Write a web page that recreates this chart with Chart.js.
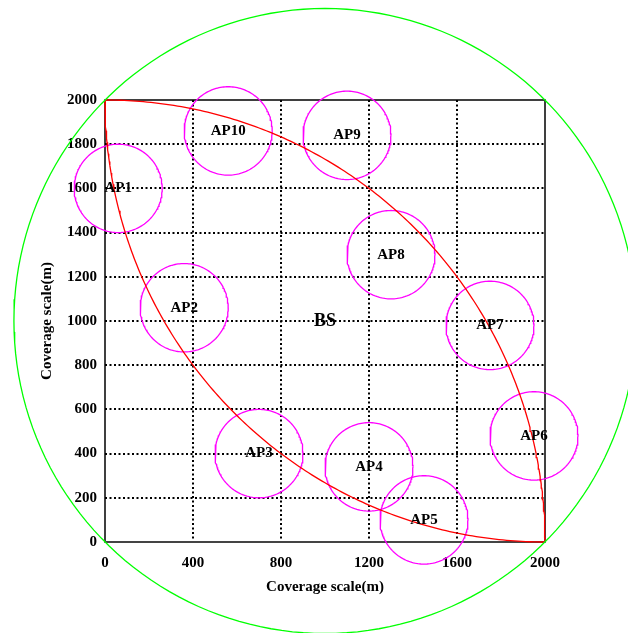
<!DOCTYPE html>
<html>
<head>
<meta charset="utf-8">
<script src="https://cdn.jsdelivr.net/npm/chart.js@4/dist/chart.umd.min.js"></script>
<style>
  html, body { margin: 0; padding: 0; background: #fff; }
  #wrap { width: 628px; height: 633px; }
</style>
</head>
<body>
<div id="wrap"><canvas id="c" width="628" height="633"></canvas></div>
<script>
// Access points: names, centre coordinates (m) and coverage radius (m)
const apNames = ['AP1', 'AP2', 'AP3', 'AP4', 'AP5', 'AP6', 'AP7', 'AP8', 'AP9', 'AP10'];
const apX = [60, 360, 700, 1200, 1450, 1950, 1750, 1300, 1100, 560];
const apY = [1600, 1060, 400, 340, 100, 480, 980, 1300, 1840, 1860];
const apRadius = 200;

// Base station at the middle of the square, covering the whole square
const bsName = 'BS';
const bsX = 1000;
const bsY = 1000;
const bsRadius = 1414;

// Quarter arcs of radius equal to the side, centred on two opposite corners
const arcCentersX = [0, 2000];
const arcCentersY = [0, 2000];
const arcRadius = 2000;

// Axis ticks
const xTicks = [0, 400, 800, 1200, 1600, 2000];
const yTicks = [0, 200, 400, 600, 800, 1000, 1200, 1400, 1600, 1800, 2000];
const axisTitle = 'Coverage scale(m)';

const SERIF = '"Liberation Serif", "Times New Roman", serif';

// Outline of a circle (or part of it) as points for a line dataset
function ring(cx, cy, r, a0 = 0, a1 = 2 * Math.PI, n = 180) {
  const pts = [];
  for (let i = 0; i <= n; i++) {
    const a = a0 + (a1 - a0) * i / n;
    pts.push({ x: cx + r * Math.cos(a), y: cy + r * Math.sin(a) });
  }
  return pts;
}

function lineSet(data, color, width) {
  return {
    data, borderColor: color, borderWidth: width, showLine: true,
    pointRadius: 0, pointHoverRadius: 0, tension: 0, fill: false, clip: false
  };
}

const datasets = [];
// coverage of the base station
datasets.push(lineSet(ring(bsX, bsY, bsRadius), '#00ff00', 1.3));
// corner arcs
datasets.push(lineSet(ring(arcCentersX[0], arcCentersY[0], arcRadius, 0, Math.PI / 2), '#ff0000', 1.3));
datasets.push(lineSet(ring(arcCentersX[1], arcCentersY[1], arcRadius, Math.PI, 1.5 * Math.PI), '#ff0000', 1.3));
// access point coverage
apNames.forEach((n, i) => datasets.push(lineSet(ring(apX[i], apY[i], apRadius), '#ff00ff', 1.3)));

// Plot frame drawn as a solid box around the area
const framePlugin = {
  id: 'frame',
  beforeDatasetsDraw(chart) {
    const { ctx, chartArea: a } = chart;
    ctx.save();
    ctx.strokeStyle = '#000';
    ctx.lineWidth = 1.5;
    ctx.strokeRect(a.left, a.top, a.right - a.left, a.bottom - a.top);
    ctx.strokeStyle = '#444';
    ctx.lineWidth = 2;
    ctx.beginPath();
    ctx.moveTo(a.left, a.bottom);
    ctx.lineTo(a.right, a.bottom);
    ctx.stroke();
    ctx.restore();
  }
};

// Names of the stations written at their centres
const namePlugin = {
  id: 'names',
  afterDatasetsDraw(chart) {
    const { ctx, scales: { x, y } } = chart;
    ctx.save();
    ctx.fillStyle = '#000';
    ctx.textAlign = 'center';
    ctx.textBaseline = 'middle';
    ctx.font = 'bold 15px ' + SERIF;
    apNames.forEach((n, i) => {
      ctx.fillText(n, x.getPixelForValue(apX[i]), y.getPixelForValue(apY[i]));
    });
    ctx.font = 'bold 18px ' + SERIF;
    ctx.fillText(bsName, x.getPixelForValue(bsX), y.getPixelForValue(bsY));
    ctx.restore();
  }
};

const gridColor = (ctx) => {
  const v = ctx.tick && ctx.tick.value;
  return (v === 0 || v === 2000) ? 'rgba(0,0,0,0)' : '#000';
};
const plain = (v) => String(v);

new Chart(document.getElementById('c'), {
  type: 'scatter',
  data: { datasets },
  plugins: [framePlugin, namePlugin],
  options: {
    responsive: false,
    animation: false,
    events: [],
    layout: { padding: { top: 100, right: 83, left: 0, bottom: 0 } },
    plugins: { legend: { display: false }, tooltip: { enabled: false } },
    scales: {
      x: {
        type: 'linear', min: 0, max: 2000,
        afterFit(s) { s.height = 91; },
        afterBuildTicks(s) { s.ticks = xTicks.map(v => ({ value: v })); },
        border: { display: false, dash: [2, 2.5] },
        grid: { color: gridColor, lineWidth: 2, drawTicks: false },
        ticks: { padding: 12, color: '#000', callback: plain, font: { family: SERIF, size: 15, weight: 'bold' }, maxRotation: 0, autoSkip: false },
        title: { display: true, text: axisTitle, color: '#000', padding: { top: 0, bottom: 37 }, font: { family: SERIF, size: 15, weight: 'bold' } }
      },
      y: {
        type: 'linear', min: 0, max: 2000,
        afterFit(s) { s.width = 105; },
        afterBuildTicks(s) { s.ticks = yTicks.map(v => ({ value: v })); },
        border: { display: false, dash: [2, 2.5] },
        grid: { color: gridColor, lineWidth: 2, drawTicks: false },
        ticks: { padding: 8, color: '#000', callback: plain, font: { family: SERIF, size: 15, weight: 'bold' }, autoSkip: false },
        title: { display: true, text: axisTitle, color: '#000', padding: { top: 38, bottom: 0 }, font: { family: SERIF, size: 15, weight: 'bold' } }
      }
    }
  }
});
</script>
</body>
</html>
